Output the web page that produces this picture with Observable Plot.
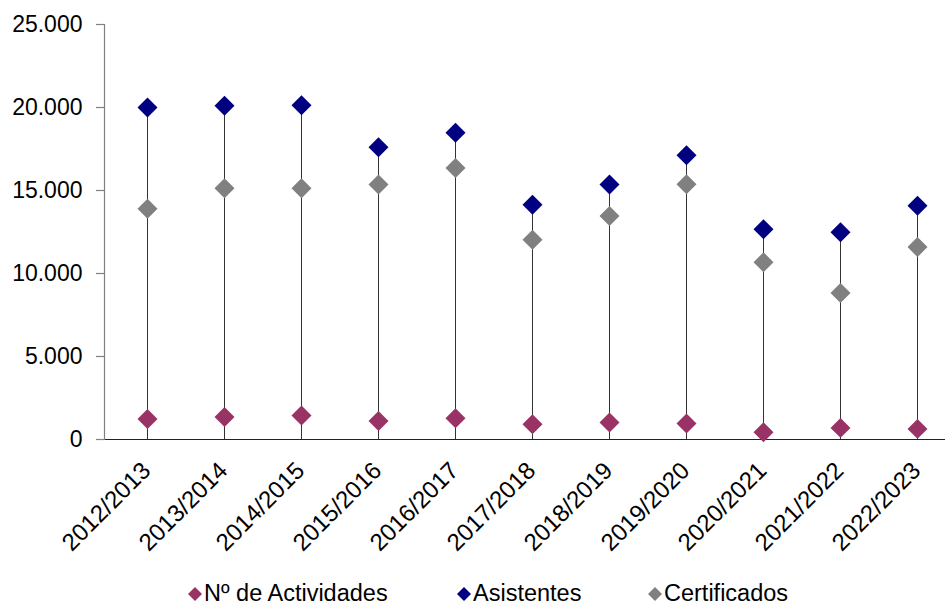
<!DOCTYPE html>
<html>
<head>
<meta charset="utf-8">
<script src="https://cdn.jsdelivr.net/npm/d3@7"></script>
<script src="https://cdn.jsdelivr.net/npm/@observablehq/plot@0.6"></script>
<style>
  html, body { margin: 0; padding: 0; background: #fff; overflow: hidden; }
  #wrap { width: 945px; height: 608px; position: relative; font-family: "Liberation Sans", Arial, sans-serif; }
  #legend { position: relative; height: 36px; width: 945px; }
  .item { position: absolute; top: 0; height: 36px; font-size: 23.5px; color: #000; white-space: nowrap; }
  .item svg { position: absolute; top: 14px; left: 0; }
  .item span { position: absolute; left: 17px; top: 8px; line-height: 26px; }
</style>
</head>
<body>
<div id="wrap">
  <div id="chart"></div>
  <div id="legend"></div>
</div>
<script>
const categories = ["2012/2013","2013/2014","2014/2015","2015/2016","2016/2017","2017/2018","2018/2019","2019/2020","2020/2021","2021/2022","2022/2023"];
const actividades = [1240, 1360, 1440, 1120, 1280, 920, 1020, 960, 440, 700, 640];
const asistentes = [20000, 20100, 20130, 17600, 18480, 14140, 15360, 17120, 12670, 12490, 14080];
const certificados = [13900, 15130, 15130, 15360, 16360, 12030, 13470, 15380, 10680, 8820, 11590];
const yTicks = [0, 5000, 10000, 15000, 20000, 25000];
const seriesNames = ["Nº de Actividades", "Asistentes", "Certificados"];
const seriesColors = ["#993366", "#000080", "#808080"];

const rows = categories.map((c, i) => ({cat: c, act: actividades[i], asis: asistentes[i], cert: certificados[i]}));
const points = [];
rows.forEach(r => {
  points.push({cat: r.cat, v: r.act, s: seriesNames[0]});
  points.push({cat: r.cat, v: r.asis, s: seriesNames[1]});
  points.push({cat: r.cat, v: r.cert, s: seriesNames[2]});
});

const loc = d3.formatLocale({decimal: ",", thousands: ".", grouping: [3], currency: ["", "€"]});
const fmt = loc.format(",d");

const font = "Liberation Sans, Arial, sans-serif";

const chart = Plot.plot({
  width: 945,
  height: 572,
  marginLeft: 104,
  marginRight: 0,
  marginTop: 24,
  marginBottom: 133,
  style: {fontFamily: font, background: "#fff", color: "#000", overflow: "hidden"},
  x: {type: "point", domain: categories, range: [143, 920.7], padding: 0, axis: null},
  y: {domain: [0, 25000], axis: null},
  color: {domain: seriesNames, range: seriesColors},
  marks: [
    Plot.ruleX(rows, {x: "cat", y1: 0, y2: "asis", stroke: "#333", strokeWidth: 1}),
    Plot.ruleY([0], {stroke: "#222", strokeWidth: 1.2, insetLeft: -8}),
    Plot.frame({anchor: "left", stroke: "#808080", strokeWidth: 1.2}),
    Plot.axisY(yTicks, {tickSize: 8, tickPadding: 14, tickFormat: fmt, fontSize: 23, stroke: "#808080", strokeWidth: 1.2, fill: "#000"}),
    Plot.dot(points, {x: "cat", y: "v", fill: "s", symbol: "diamond2", r: 9, stroke: null}),
    Plot.text(categories, {x: d => d, frameAnchor: "bottom", text: d => d, rotate: -45, textAnchor: "end", lineAnchor: "middle", dy: 27, dx: -1, fontSize: 24, fill: "#000"})
  ]
});
document.getElementById("chart").appendChild(chart);

const legend = document.getElementById("legend");
const lefts = [187, 456, 647];
seriesNames.forEach((n, i) => {
  const d = document.createElement("div");
  d.className = "item";
  d.style.left = lefts[i] + "px";
  d.innerHTML = `<svg width="16" height="16" viewBox="0 0 16 16"><path d="M8 1 L15 8 L8 15 L1 8 Z" fill="${seriesColors[i]}"/></svg><span>${n}</span>`;
  legend.appendChild(d);
});
</script>
</body>
</html>
